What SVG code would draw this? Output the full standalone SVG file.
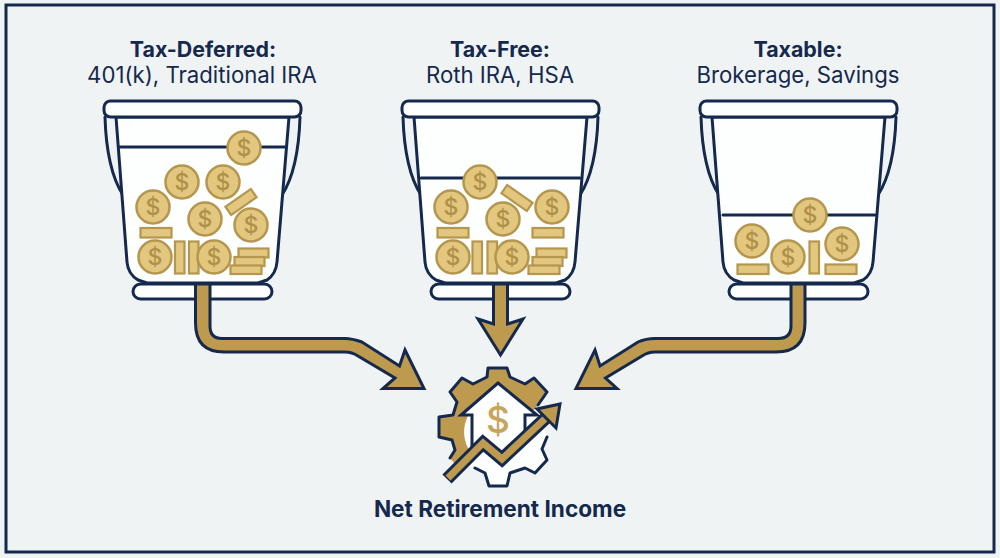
<svg xmlns="http://www.w3.org/2000/svg" width="1000" height="558" viewBox="0 0 1000 558">
<defs>
<style>
.line{fill:none;stroke:#14294d;stroke-width:3;stroke-linecap:round;stroke-linejoin:round}
.white{fill:#fdfefe;stroke:#14294d;stroke-width:3;stroke-linejoin:round}
.coin{fill:#e3c77f;stroke:#b5964f;stroke-width:2.5}
.bar{fill:#e3c77f;stroke:#b5964f;stroke-width:2.2}
.d{font-family:"Inter","Liberation Sans",sans-serif;font-size:23px;font-weight:500;fill:#b0904a;text-anchor:middle}
.h{font-family:"Inter","Liberation Sans",sans-serif;font-size:21.4px;font-weight:700;fill:#14294d;text-anchor:middle}
.s{font-family:"Inter","Liberation Sans",sans-serif;font-size:22.2px;font-weight:400;fill:#14294d;text-anchor:middle}
.n{font-family:"Inter","Liberation Sans",sans-serif;font-size:22.6px;font-weight:700;fill:#14294d;text-anchor:middle}
.arrow{fill:#bd9a4d;stroke:#14294d;stroke-width:3;stroke-linejoin:miter}
</style>
<g id="shell">
<path class="line" d="M105 117C106 150 112 178 123 195"/>
<path class="line" d="M300 117C299 150 293 178 282 195"/>
<rect class="white" x="133" y="284" width="139" height="15" rx="7.5"/>
<path class="white" d="M116 117L127 262Q128 274 138 280L147 283H258L267 280Q276 274 277 262L289 117Z"/>
<rect class="white" x="104" y="101" width="197" height="16" rx="6.5"/>
</g>
</defs>
<rect x="0" y="0" width="1000" height="558" fill="#f0f3f4"/>
<rect x="6" y="5" width="988" height="547" fill="none" stroke="#14294d" stroke-width="3"/>

<g id="bucket-tax-deferred">
<text class="h" x="203" y="57">Tax-Deferred:</text>
<text class="s" x="202" y="83">401(k), Traditional IRA</text>
<use href="#shell"/>
<path class="line" d="M120 147H285"/>
<circle class="coin" cx="244" cy="148" r="16.500"/><text class="d" x="244" y="156">$</text>
<circle class="coin" cx="182" cy="182" r="16.500"/><text class="d" x="182" y="190">$</text>
<circle class="coin" cx="223" cy="182" r="16.500"/><text class="d" x="223" y="190">$</text>
<circle class="coin" cx="153" cy="207" r="16.500"/><text class="d" x="153" y="215">$</text>
<circle class="coin" cx="205" cy="219" r="16.500"/><text class="d" x="205" y="227">$</text>
<circle class="coin" cx="251" cy="225" r="16.500"/><text class="d" x="251" y="233">$</text>
<rect class="bar" x="140.500" y="228" width="31" height="9.500"/>
<rect class="bar" transform="rotate(-35 241 202)" x="225.500" y="197" width="31" height="10"/>
<circle class="coin" cx="155" cy="257" r="16.500"/><text class="d" x="155" y="265">$</text>
<rect class="bar" x="175" y="241.500" width="9.500" height="32"/>
<rect class="bar" x="189" y="241.500" width="9.500" height="32"/>
<circle class="coin" cx="214" cy="257" r="16.500"/><text class="d" x="214" y="265">$</text>
<rect class="bar" x="238.500" y="248.500" width="30" height="9"/>
<rect class="bar" x="234.500" y="257" width="30" height="9"/>
<rect class="bar" x="230.500" y="265.500" width="31" height="8.500"/>
</g>

<g id="bucket-tax-free">
<text class="h" x="500" y="57">Tax-Free:</text>
<text class="s" x="500" y="83">Roth IRA, HSA</text>
<use href="#shell" x="298"/>
<path class="line" d="M421 178H580"/>
<circle class="coin" cx="480" cy="182" r="16.500"/><text class="d" x="480" y="190">$</text>
<circle class="coin" cx="451" cy="207" r="16.500"/><text class="d" x="451" y="215">$</text>
<circle class="coin" cx="503" cy="219" r="16.500"/><text class="d" x="503" y="227">$</text>
<circle class="coin" cx="552" cy="207" r="16.500"/><text class="d" x="552" y="215">$</text>
<rect class="bar" transform="rotate(35 517 198)" x="501.500" y="193" width="31" height="10"/>
<rect class="bar" x="437.500" y="228" width="31" height="9.500"/>
<rect class="bar" x="532.500" y="228" width="31" height="9.500"/>
<circle class="coin" cx="453" cy="257" r="16.500"/><text class="d" x="453" y="265">$</text>
<rect class="bar" x="472.500" y="241.500" width="9.500" height="32"/>
<rect class="bar" x="487.500" y="241.500" width="9.500" height="32"/>
<circle class="coin" cx="512" cy="257" r="16.500"/><text class="d" x="512" y="265">$</text>
<rect class="bar" x="536.500" y="248.500" width="30" height="9"/>
<rect class="bar" x="532.500" y="257" width="30" height="9"/>
<rect class="bar" x="528.500" y="265.500" width="31" height="8.500"/>
</g>

<g id="bucket-taxable">
<text class="h" x="798" y="57">Taxable:</text>
<text class="s" x="798" y="83">Brokerage, Savings</text>
<use href="#shell" x="596"/>
<path class="line" d="M723 215H875"/>
<circle class="coin" cx="810" cy="215" r="16.500"/><text class="d" x="810" y="223">$</text>
<circle class="coin" cx="752" cy="241" r="16.500"/><text class="d" x="752" y="249">$</text>
<circle class="coin" cx="788" cy="257" r="16.500"/><text class="d" x="788" y="265">$</text>
<circle class="coin" cx="842" cy="244" r="16.500"/><text class="d" x="842" y="252">$</text>
<rect class="bar" x="809.500" y="241.500" width="9.500" height="32"/>
<rect class="bar" x="737.500" y="264.500" width="31" height="9.500"/>
<rect class="bar" x="825.500" y="264.500" width="31" height="9.500"/>
</g>

<g id="connectors">
<path class="arrow" d="M195.500 284V323Q195.500 352 224 352H345Q352 352 358 356L395 378L383 388.500H424L405 350L399.500 366L362 342Q352 338.500 345 338.500H222Q210 338.500 210 326V284Z"/>
<path class="arrow" d="M493.500 284V324L478 319L500.500 355L523 319L507.500 324V284Z"/>
<path class="arrow" d="M805 284V323Q805 352 776 352H655Q648 352 642 356L605.500 378L617 388.500H576L595 350L600 366L638 342Q646 338.500 655 338.500H778Q791 338.500 791 326V284Z"/>
</g>

<g id="net-retirement-income">
<path fill="#fdfefe" d="M488 368H507L510 377L525 384L534 378L547 392L538 405L543 417L547 437L542 449L547 460L535 473L525 468L510 473L507 486H489L485 473L475 468L450 458L455 450L452 440L439 437V417L453 415L457 402L450 392L462 378L473 384L487 377Z"/>
<path fill="#bd9a4d" d="M538 405L547 392L534 378L525 384L510 377L507 368H488L487 377L473 384L462 378L450 392L457 402L453 415L439 417V437L452 440L455 450L450 458L455 464L470 452A36 36 0 1 1 532 412Z"/>
<path class="line" d="M538 405L547 392L534 378L525 384L510 377L507 368H488L487 377L473 384L462 378L450 392L457 402L453 415L439 417V437L452 440L455 450L450 458"/>
<path class="line" d="M475 468L485 473L489 486H507L510 473L525 468L535 473L547 460L542 449L547 437"/>
<path fill="#fdfefe" stroke="#14294d" stroke-width="3" stroke-linejoin="miter" d="M498 383L537 415H525V436L502 459L483 443L472 446V415H461Z"/>
<text x="498" y="433" font-family="Inter,'Liberation Sans',sans-serif" font-size="37" font-weight="500" fill="#c7a55c" text-anchor="middle">$</text>
<path fill="none" stroke="#14294d" stroke-width="13" stroke-linejoin="miter" d="M447 479L483 443L502 459L548 416"/>
<path fill="none" stroke="#bd9a4d" stroke-width="7" stroke-linejoin="miter" d="M448 478L483 443L502 459L548 416"/>
<path class="arrow" d="M560 404L537 409L556 428Z"/>
<text class="n" x="500" y="517">Net Retirement Income</text>
</g>
</svg>
